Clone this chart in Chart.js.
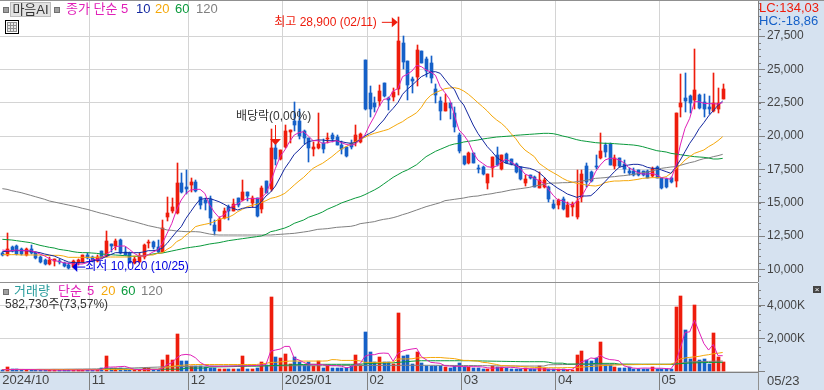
<!DOCTYPE html>
<html lang="ko">
<head>
<meta charset="UTF-8">
<title>마음AI</title>
<script src="https://cdn.jsdelivr.net/npm/chart.js"></script>
<style>
    html, body { margin: 0; padding: 0; }
    body { width: 824px; height: 390px; background: #d6e2f0; position: relative; overflow: hidden;
           font: 12px 'Liberation Sans', 'Noto Sans CJK KR', sans-serif; color: #333; }
    canvas { position: absolute; left: 0; }
    #priceChart { top: 0; }
    #volumeChart { top: 282px; }
    .t { position: absolute; white-space: pre; line-height: 14px; }
    .sq { position: absolute; width: 4px; height: 4px; background: #a0a0a0; border: 1px solid #707070; }
    .line { position: absolute; background: #909090; }
</style>
</head>
<body>
<canvas id="priceChart" width="824" height="282"></canvas>
<canvas id="volumeChart" width="824" height="108"></canvas>

<div class="line" style="left:0;top:0;width:824px;height:1px"></div>
<div class="line" style="left:0;top:282px;width:758px;height:1px"></div>
<div class="line" style="left:758px;top:372px;width:1px;height:18px"></div>

<div class="sq" style="left:3px;top:7px"></div>
<div class="t" style="left:10px;top:2px;width:39px;height:13px;line-height:13px;text-align:center;background:#e2e2e2;border:1px solid #bdbdbd;font-size:13px">마음AI</div>
<div class="sq" style="left:54px;top:7px"></div>
<div class="t" style="left:66px;top:2px;color:#e020b8;font-size:13px">종가 단순</div>
<div class="t" style="left:121px;top:2px;color:#e020b8;font-size:13px">5</div>
<div class="t" style="left:136px;top:2px;color:#1428a0;font-size:13px">10</div>
<div class="t" style="left:155px;top:2px;color:#f5a80a;font-size:13px">20</div>
<div class="t" style="left:175px;top:2px;color:#0a9a3c;font-size:13px">60</div>
<div class="t" style="left:196px;top:2px;color:#808080;font-size:13px">120</div>
<div style="position:absolute;left:5px;top:20px;width:12px;height:12px;border:1px solid #000;padding:0;background:#fff">
    <div style="margin:1px;width:10px;height:10px;background:repeating-linear-gradient(90deg,#909090 0 1px,transparent 1px 3px),repeating-linear-gradient(0deg,#909090 0 1px,#e8e8e8 1px 3px)"></div>
</div>
<div class="t" style="left:759px;top:1px;color:#ee1c0c;font-size:13px">LC:134,03</div>
<div class="t" style="left:759px;top:14px;color:#1560c8;font-size:13px">HC:-18,86</div>

<div class="sq" style="left:3px;top:289px"></div>
<div class="t" style="left:14px;top:284px;color:#2a9d9d;font-size:13px">거래량</div>
<div class="t" style="left:58px;top:284px;color:#e020b8;font-size:13px">단순</div>
<div class="t" style="left:87px;top:284px;color:#e020b8;font-size:13px">5</div>
<div class="t" style="left:101px;top:284px;color:#f5a80a;font-size:13px">20</div>
<div class="t" style="left:121px;top:284px;color:#0a9a3c;font-size:13px">60</div>
<div class="t" style="left:141px;top:284px;color:#808080;font-size:13px">120</div>
<div class="t" style="left:5px;top:297px;font-size:12px">582,730주(73,57%)</div>
<div style="position:absolute;left:813px;top:286px;width:8px;height:7px;background:#444;color:#fff;font-size:8px;line-height:7px;text-align:center">×</div>
<div class="t" style="left:767px;top:374px;font-size:13px;color:#444">05/23</div>

<script>
// trading days, then empty slots on the right of the last candle
const categories = [
    '10/04','10/07','10/08','10/10','10/11','10/14','10/15','10/16','10/17','10/18',
    '10/21','10/22','10/23','10/24','10/25','10/28','10/29','10/30','10/31','11/01',
    '11/04','11/05','11/06','11/07','11/08','11/11','11/12','11/13','11/14','11/15',
    '11/18','11/19','11/20','11/21','11/22','11/25','11/26','11/27','11/28','11/29',
    '12/02','12/03','12/04','12/05','12/06','12/09','12/10','12/11','12/12','12/13',
    '12/16','12/17','12/18','12/19','12/20','12/23','12/24','12/26','12/27','12/30',
    '01/02','01/03','01/06','01/07','01/08','01/09','01/10','01/13','01/14','01/15',
    '01/16','01/17','01/20','01/21','01/22','01/23','01/24','01/31','02/03','02/04',
    '02/05','02/06','02/07','02/10','02/11','02/12','02/13','02/14','02/17','02/18',
    '02/19','02/20','02/21','02/24','02/25','02/26','02/27','02/28','03/04','03/05',
    '03/06','03/07','03/10','03/11','03/12','03/13','03/14','03/17','03/18','03/19',
    '03/20','03/21','03/24','03/25','03/26','03/27','03/28','03/31','04/01','04/02',
    '04/03','04/04','04/07','04/08','04/09','04/10','04/11','04/14','04/15','04/16',
    '04/17','04/18','04/21','04/22','04/23','04/24','04/25','04/28','04/29','04/30',
    '05/02','05/07','05/08','05/09','05/12','05/13','05/14','05/15','05/16','05/19',
    '05/20','05/21','05/22','05/23','','','','','','',''
];
const monthStarts = [0, 19, 40, 60, 78, 98, 118, 140];
const monthLabels = ['2024/10', '11', '12', '2025/01', '02', '03', '04', '05'];
const priceTicks = [10000, 12500, 15000, 17500, 20000, 22500, 25000, 27500];
const volumeTicks = [0, 2000, 4000];

const opens = [
    11250,11050,11700,11750,11550,11100,11500,11275,10950,10700,
    10400,10650,10650,10500,10325,10150,10450,10550,11050,10950,
    10650,11400,11000,11900,11750,12200,11325,11200,10450,10575,
    10900,11950,12075,11650,11325,13900,14400,14200,16500,16200,
    16350,16575,15400,15200,15250,13300,12900,13850,14700,14400,
    15350,15200,15800,14950,15350,14550,16600,16000,19075,18300,
    19150,20325,21100,21150,20400,19850,19000,19075,19450,19750,
    20075,19950,19300,19150,19450,19550,19550,25700,23250,22500,
    22600,24000,22850,22900,23500,26950,25600,24250,24400,26400,
    25800,25500,23550,22600,21875,22500,21700,20050,18500,17950,
    18750,17625,17650,16500,17600,18575,17550,18650,18300,17900,
    17700,16450,17050,16950,16125,16150,16150,14875,14825,15275,
    13950,14700,13900,15400,17750,17325,17750,18325,19325,19425,
    17750,18350,17900,17375,17375,17425,17350,17350,16975,17650,
    16850,16750,16825,16650,22175,22825,23000,22700,23050,22550,
    22175,21875,22050,22800
];
const closes = [
    11050,11500,11400,11150,11150,11500,11200,10825,10550,10400,
    10700,10750,10550,10250,10100,10650,10700,11050,10850,10600,
    10950,10850,12125,11750,12125,11250,11100,10500,10750,11025,
    11825,12075,11650,11325,13075,14200,14650,16450,15800,16050,
    16550,15850,14800,15000,13850,12900,13800,14375,14375,14900,
    14800,15825,15500,15325,14000,16100,15750,19075,18250,18950,
    20375,20450,20850,20000,19850,19100,19150,19400,19050,19850,
    19800,19350,19050,18500,19200,20100,20150,22025,22050,22200,
    23400,23000,22700,23325,27100,25550,23800,24100,26425,25500,
    24850,24350,23050,21900,22500,22100,20700,18900,17900,18750,
    18000,17575,17150,17150,18400,17800,18575,18000,17900,17300,
    16750,16800,16850,16200,16700,16700,15250,14600,15200,14550,
    14825,14875,15100,17150,16575,16650,17650,18875,18825,17850,
    18350,17750,17500,17200,17075,17075,17075,16875,17500,16875,
    16100,16150,16550,21725,22500,22625,22450,23450,22125,22050,
    22000,22450,22500,23500
];
const highs = [
    11325,12700,11750,11800,11600,11575,11850,11325,11000,10775,
    10900,10750,10800,10550,10450,10700,10750,11100,11200,11000,
    11050,11400,12850,11900,12300,12300,11700,11300,10900,11200,
    11900,12200,12150,12200,13700,15400,15325,17950,17200,17450,
    16850,16700,15450,15375,15500,13700,13900,14575,14800,15300,
    15350,16700,15800,15500,15350,16250,16600,20500,19700,18950,
    20825,20450,22575,22025,20450,19850,19575,21725,19750,20250,
    20250,20050,19650,19200,19700,20850,20250,25700,23750,22950,
    23800,24000,22900,23625,28900,27500,25650,24450,26850,26400,
    25950,26000,23900,22900,23125,22500,22200,20200,18500,18800,
    18750,17850,17750,17150,18450,19200,18575,18750,18300,17950,
    17700,17100,17100,17000,17325,16825,16250,15200,15300,15400,
    15050,15050,17450,17450,17950,17375,18575,20200,19450,19450,
    18550,18350,18200,17575,17575,17475,17400,17450,17650,17750,
    16875,16875,16950,21725,24625,24750,23075,26550,23125,23125,
    22975,24700,23575,23875
];
const lows = [
    11000,11000,11300,11100,11100,11000,11150,10775,10450,10350,
    10350,10250,10400,10150,10020,10100,10350,10500,10750,10550,
    10550,10800,10950,11300,11450,11150,11050,10450,10400,10525,
    10800,11600,11550,11250,11300,13650,14250,14150,15750,15650,
    15825,15800,14500,14450,13350,12550,12850,13800,13700,14350,
    14700,15150,15100,14650,13900,14250,15700,15900,17825,18200,
    19075,19500,20400,19750,19400,18050,18500,19000,18750,19450,
    19575,19300,18650,18450,19050,19250,19450,21950,21450,21800,
    22250,22900,21950,22625,23100,25000,22700,23200,23750,25450,
    24400,24000,22450,21200,21875,21300,20325,18750,17800,17900,
    17950,17250,17050,16050,16900,17750,17450,17950,17800,17250,
    16700,16250,16750,16150,16100,16100,15050,14550,14500,14450,
    13900,14000,13800,15075,16200,16575,17550,18275,18400,17850,
    17550,17700,17200,17050,17000,17000,17000,16825,16900,16825,
    16000,16100,16450,16150,21425,21800,21750,22000,22050,21450,
    21625,21800,21700,22750
];
const ma5 = [
    11450,11400,11400,11450,11400,11400,11400,11300,11150,11000,
    10800,10650,10600,10500,10450,10400,10400,10400,10500,10700,
    10750,10800,11100,11350,11700,11750,11750,11500,11200,11000,
    11000,11100,11300,11450,11950,12700,13450,14450,15200,15700,
    15950,16000,16000,15700,14850,14300,13900,14050,14450,14800,
    14900,15150,15300,15300,15300,15350,15700,16550,17575,18450,
    18950,19575,20075,20250,20325,20000,19650,19650,19450,19500,
    19575,19650,19500,19375,19300,19400,19750,20075,20825,21450,
    22200,22750,22800,23375,23550,24450,24625,24875,25300,25200,
    24950,24800,24550,23700,23250,22750,21575,20450,20075,19575,
    18750,18200,17950,17700,17650,17750,18075,18250,18075,17825,
    17575,17150,17000,16825,16650,16450,16000,15550,15200,15150,
    14950,14825,15075,15450,16075,16575,17325,17825,18200,18325,
    18325,18200,18000,17650,17450,17250,17150,17150,17200,17075,
    16875,16825,16750,17700,19325,20575,21325,22575,22575,22450,
    22425,22425,22400,22500
];
const ma10 = [
    11325,11350,11375,11400,11400,11400,11350,11300,11250,11150,
    11075,11000,10850,10700,10550,10500,10500,10500,10550,10600,
    10700,10800,10950,11100,11250,11250,11250,11250,11250,11250,
    11300,11400,11400,11450,11600,11950,12400,12825,13200,13825,
    14325,14825,15250,15300,15325,15200,15075,14900,14700,14575,
    14450,14575,14625,14650,14650,15075,15500,15800,16250,16900,
    17575,18075,18625,18950,19325,19575,19650,19700,19700,19650,
    19650,19650,19575,19500,19450,19500,19750,20000,20200,20400,
    20825,21200,21700,22075,22500,23125,23500,23800,24125,24450,
    24625,24800,24825,24700,24250,23800,23500,22750,22325,21575,
    20825,20200,19700,19200,18825,18400,18150,17950,17875,17800,
    17700,17625,17575,17450,17250,16950,16575,16325,16075,15875,
    15650,15525,15400,15500,15500,15525,15825,16200,16575,16950,
    17325,17650,17750,17825,17875,17875,17800,17650,17575,17575,
    17450,17325,17200,17650,18200,18825,19450,19950,20550,21000,
    21500,21900,22300,22625
];
const ma20 = [
    11100,11100,11100,11100,11075,11075,11075,11075,11075,11050,
    11050,11050,11050,11000,10900,10900,10900,10900,10900,10900,
    10900,10925,10925,10925,10925,10925,10925,10925,11000,11000,
    11000,11075,11075,11200,11250,11500,11700,12075,12250,12575,
    12825,13200,13300,13375,13450,13575,13750,13825,13900,14075,
    14325,14500,14700,14800,14875,15000,15150,15325,15400,15525,
    15700,16000,16325,16625,16900,17250,17575,17775,17950,18200,
    18450,18750,19025,19200,19400,19575,19750,19900,20075,20200,
    20300,20400,20500,20700,20900,21075,21325,21525,21750,22150,
    22700,23050,23250,23400,23550,23600,23625,23550,23375,23125,
    22825,22500,22200,21875,21500,21200,20950,20625,20200,19825,
    19325,18950,18700,18450,17950,17700,17450,17250,17050,16825,
    16650,16550,16450,16400,16325,16275,16250,16325,16500,16575,
    16625,16625,16650,16650,16700,16750,16825,16850,16875,16875,
    16875,16950,17200,17500,17825,18200,18450,18700,18825,18950,
    19200,19400,19650,19950
];
const ma60 = [
    12250,12225,12200,12150,12100,12050,12000,11900,11800,11725,
    11650,11600,11500,11450,11400,11325,11275,11250,11250,11225,
    11200,11150,11125,11100,11075,11050,11025,11000,10975,10975,
    11025,11075,11150,11200,11225,11300,11375,11450,11525,11600,
    11650,11700,11750,11825,11900,11950,12000,12075,12150,12200,
    12250,12300,12350,12400,12450,12500,12625,12825,12900,13000,
    13100,13250,13450,13575,13700,13900,14025,14150,14300,14500,
    14650,14800,14975,15100,15225,15350,15450,15600,15775,15950,
    16150,16400,16650,16900,17100,17300,17450,17650,17850,18150,
    18450,18650,18850,19000,19150,19300,19400,19450,19550,19600,
    19650,19700,19775,19825,19875,19925,19950,19975,20000,20050,
    20075,20100,20125,20150,20175,20200,20200,20175,20100,20000,
    19925,19825,19725,19650,19600,19550,19500,19475,19450,19450,
    19425,19400,19375,19350,19325,19275,19200,19100,19000,18900,
    18850,18800,18700,18650,18600,18550,18500,18450,18425,18400,
    18350,18275,18275,18325
];
const ma120 = [
    16050,16000,15900,15825,15750,15650,15550,15450,15350,15250,
    15125,15050,14975,14900,14825,14750,14675,14575,14500,14400,
    14300,14200,14125,14025,13925,13850,13750,13650,13575,13475,
    13375,13275,13200,13125,13050,12950,12925,12875,12850,12825,
    12825,12825,12800,12725,12650,12600,12575,12575,12575,12575,
    12575,12575,12575,12575,12575,12575,12575,12575,12600,12625,
    12650,12675,12700,12750,12800,12850,12925,13000,13025,13050,
    13100,13150,13175,13200,13225,13300,13425,13475,13525,13575,
    13675,13750,13800,13875,13975,14100,14200,14325,14450,14575,
    14700,14800,14900,15000,15150,15200,15250,15300,15350,15425,
    15475,15500,15575,15625,15675,15750,15800,15875,15950,16000,
    16050,16100,16150,16250,16300,16375,16450,16475,16475,16500,
    16500,16525,16575,16625,16675,16750,16825,16850,16875,16925,
    16950,17000,17025,17075,17125,17175,17250,17300,17375,17475,
    17575,17625,17675,17700,17800,17900,18000,18075,18200,18300,
    18350,18450,18525,18625
];

// volume in thousands of shares
const volumes = [
    80,245,100,100,80,80,80,60,60,60,
    50,50,40,60,60,60,60,60,60,50,
    60,200,920,160,160,200,120,80,80,80,
    160,160,80,80,670,980,670,2260,610,610,
    285,305,305,265,200,160,100,100,120,100,
    120,920,100,100,200,530,370,4530,860,775,
    1040,410,860,530,370,530,285,610,200,370,
    200,200,200,200,285,980,370,2390,1160,530,
    860,530,530,430,3550,920,980,430,1140,490,
    325,325,325,325,245,200,285,490,245,245,
    185,200,120,120,305,225,225,200,100,120,
    120,180,120,120,305,160,120,120,120,120,
    80,80,980,1220,670,610,775,1775,370,370,
    245,185,185,245,145,145,145,145,245,145,
    145,145,145,3900,4590,2500,735,4040,670,735,
    430,2325,860,583
];
const volMa5 = [
    80,80,90,100,100,90,90,80,70,65,
    60,55,50,50,50,55,60,60,60,60,
    60,85,240,240,250,270,285,200,100,90,
    100,100,100,100,160,400,500,800,980,1020,
    980,815,530,370,300,290,285,285,290,300,
    310,320,325,325,345,365,400,1220,1285,1346,
    1510,1510,775,675,530,410,410,400,390,350,
    325,325,300,200,240,400,450,900,1000,1000,
    1080,1100,1080,600,1080,1225,1300,1350,1390,880,
    700,530,500,470,325,300,290,285,270,265,
    265,265,250,200,170,190,210,230,225,210,
    170,150,140,130,130,120,110,100,90,90,
    90,100,300,570,640,800,760,960,790,700,
    680,620,320,240,180,160,180,180,170,170,
    170,150,130,530,1390,2370,2400,3120,2400,1690,
    1285,1630,940,940
];
const volMa20 = [
    90,90,90,90,90,90,90,90,90,90,
    90,90,90,90,90,90,90,90,90,90,
    90,90,90,90,90,90,90,90,90,90,
    90,100,100,100,200,240,280,320,350,370,
    390,400,400,400,400,400,400,400,400,400,
    400,400,400,400,400,440,470,530,530,560,
    580,610,610,610,610,610,610,610,610,620,
    700,690,650,650,650,650,620,530,530,530,
    530,530,530,550,735,740,740,750,800,815,
    815,830,830,830,800,780,760,700,650,650,
    620,610,530,510,450,400,330,325,310,300,
    280,260,240,220,210,200,200,200,200,200,
    210,210,225,240,260,280,300,325,340,350,
    365,370,380,385,390,395,400,405,405,405,
    405,405,410,530,735,800,835,870,900,960,
    1000,1060,1090,1140
];
const volMa60 = [
    90,90,90,90,90,90,90,90,90,90,
    90,90,90,90,90,90,90,90,90,90,
    90,110,110,110,110,110,110,110,110,110,
    110,110,110,110,110,110,110,110,110,180,
    180,180,180,180,245,250,255,260,265,270,
    280,290,295,300,300,310,320,325,340,350,
    360,370,380,390,400,405,410,410,410,410,
    410,410,410,410,410,410,420,440,460,470,
    480,490,495,500,530,550,570,600,620,630,
    630,630,630,630,630,630,630,630,630,630,
    630,620,615,610,605,600,595,590,585,580,
    575,570,570,570,570,570,540,480,480,480,
    430,430,430,430,430,430,470,470,470,470,
    470,420,420,420,415,415,410,410,410,410,
    410,410,410,430,450,470,490,500,510,515,
    520,525,530,530
];
const volMa120 = [
    90,90,95,95,95,100,100,100,105,105,
    105,110,110,110,115,115,120,120,125,125,
    130,135,140,145,150,160,170,180,190,200,
    210,220,230,240,250,260,265,270,275,280,
    285,290,295,300,300,305,305,310,310,310,
    315,315,315,320,320,320,320,320,320,320,
    320,320,325,325,325,325,325,325,325,330,
    330,330,330,335,335,335,335,340,340,340,
    340,345,345,345,345,350,350,350,350,350,
    350,350,350,345,345,340,340,340,335,335,
    335,330,330,325,320,320,315,315,310,310,
    305,305,305,305,305,305,380,385,390,395,
    400,405,410,410,410,410,410,410,410,410,
    410,410,410,410,410,410,410,410,410,410,
    410,410,410,430,470,520,560,570,580,585,
    590,595,605,610
];

const upColor = '#ee1c0c';
const downColor = '#1560c8';
const gridColor = '#d4d4d4';
const axisColor = '#808080';
const fontFamily = "'Liberation Sans', 'Noto Sans CJK KR', sans-serif";

const candleColors = closes.map((c, i) => c >= opens[i] ? upColor : downColor);

function lineSet(label, data, color) {
    return { type: 'line', label, data, borderColor: color, borderWidth: 1, pointRadius: 0, tension: 0, order: 1 };
}

function monthGrid(c) {
    return monthStarts.includes(c.index) ? gridColor : 'transparent';
}

// the panes have a fixed size, so no room is kept for half a tick label
function fixSize(s, width, height) {
    if (width !== null) s.width = width;
    if (height !== null) s.height = height;
    s.paddingTop = s.paddingBottom = s.paddingLeft = s.paddingRight = 0;
}

// bars are 1 and 3 px wide, keep them on whole pixels so they stay sharp
const snapBars = {
    id: 'snapBars',
    afterDatasetsUpdate(chart) {
        chart.data.datasets.forEach((ds, n) => {
            if (ds.type !== 'bar') return;
            chart.getDatasetMeta(n).data.forEach(el => {
                el.x = Math.round(el.x) + 0.5;
                el.y = Math.round(el.y);
                el.base = Math.round(el.base);
                if (el.y === el.base) el.base = el.y + 1;
            });
        });
    }
};

const whitePlot = {
    id: 'whitePlot',
    beforeDraw(chart) {
        const a = chart.chartArea;
        chart.ctx.fillStyle = '#fff';
        chart.ctx.fillRect(a.left, a.top, a.right - a.left, a.bottom - a.top);
    }
};

function minorTicks(step) {
    return {
        id: 'minorTicks',
        afterDraw(chart) {
            const y = chart.scales.y, ctx = chart.ctx;
            ctx.fillStyle = axisColor;
            for (let v = Math.ceil(y.min / step) * step; v <= y.max; v += step) {
                ctx.fillRect(y.left + 1, Math.round(y.getPixelForValue(v)), 2, 1);
            }
        }
    };
}

// high / low / dividend marks on the price pane
const priceMarks = {
    id: 'priceMarks',
    afterDatasetsDraw(chart) {
        const ctx = chart.ctx, x = chart.scales.x, y = chart.scales.y;
        ctx.save();
        ctx.font = '12px ' + fontFamily;
        ctx.textBaseline = 'middle';

        const hx = x.getPixelForValue(84), hy = y.getPixelForValue(28900) + 5;
        ctx.fillStyle = '#ee1c0c';
        ctx.textAlign = 'right';
        ctx.fillText('최고 28,900 (02/11)', hx - 21, hy);
        ctx.fillRect(hx - 16, hy - 0.5, 11, 1);
        ctx.beginPath(); ctx.moveTo(hx, hy); ctx.lineTo(hx - 6, hy - 5); ctx.lineTo(hx - 6, hy + 5); ctx.fill();

        const lx = x.getPixelForValue(14), ly = y.getPixelForValue(10020) - 2;
        ctx.fillStyle = '#0000e0';
        ctx.textAlign = 'left';
        ctx.fillText('최저 10,020 (10/25)', lx + 17, ly);
        ctx.fillRect(lx + 9, ly - 0.5, 8, 1);
        ctx.beginPath(); ctx.moveTo(lx + 4, ly); ctx.lineTo(lx + 9, ly - 5); ctx.lineTo(lx + 9, ly + 5); ctx.fill();

        const dx = x.getPixelForValue(58);
        ctx.fillStyle = '#ee1c0c';
        ctx.fillRect(Math.round(dx), 125, 1, 15);
        ctx.beginPath(); ctx.moveTo(dx - 5.5, 139); ctx.lineTo(dx + 5.5, 139); ctx.lineTo(dx, 145); ctx.fill();
        ctx.fillStyle = '#333';
        ctx.textAlign = 'left';
        ctx.fillText('배당락(0,00%)', 236, 117);
        ctx.restore();
    }
};

new Chart(document.getElementById('priceChart'), {
    type: 'bar',
    data: {
        labels: categories,
        datasets: [
            lineSet('5', ma5, '#e020b8'),
            lineSet('10', ma10, '#1428a0'),
            lineSet('20', ma20, '#f5a80a'),
            lineSet('60', ma60, '#0a9a3c'),
            lineSet('120', ma120, '#808080'),
            { type: 'bar', label: 'body', data: opens.map((o, i) => [o, closes[i]]), backgroundColor: candleColors,
              barThickness: 3, grouped: false, order: 2 },
            { type: 'bar', label: 'wick', data: lows.map((l, i) => [l, highs[i]]), backgroundColor: candleColors,
              barThickness: 1, grouped: false, order: 3 }
        ]
    },
    options: {
        responsive: false,
        animation: false,
        layout: { padding: { top: 1 } },
        plugins: { legend: { display: false }, tooltip: { enabled: false } },
        scales: {
            x: {
                offset: true,
                grid: { offset: true, color: monthGrid, drawTicks: false },
                border: { display: false },
                ticks: { display: false, autoSkip: false },
                afterFit: s => fixSize(s, null, 0)
            },
            y: {
                position: 'right',
                min: 9050,
                max: 30125,
                grid: { color: gridColor, tickColor: axisColor, tickLength: 7 },
                border: { color: axisColor },
                ticks: {
                    padding: 2, color: '#444',
                    font: { family: fontFamily, size: 12 },
                    callback: v => v.toLocaleString('en-US')
                },
                afterBuildTicks: s => { s.ticks = priceTicks.map(value => ({ value })); },
                afterFit: s => fixSize(s, 66, null)
            }
        }
    },
    plugins: [snapBars, whitePlot, minorTicks(500), priceMarks]
});

new Chart(document.getElementById('volumeChart'), {
    type: 'bar',
    data: {
        labels: categories,
        datasets: [
            lineSet('5', volMa5, '#e020b8'),
            lineSet('20', volMa20, '#f5a80a'),
            lineSet('60', volMa60, '#0a9a3c'),
            lineSet('120', volMa120, '#808080'),
            { type: 'bar', label: '거래량', data: volumes, backgroundColor: candleColors,
              barThickness: 3, grouped: false, order: 2 }
        ]
    },
    options: {
        responsive: false,
        animation: false,
        layout: { padding: { top: 1 } },
        plugins: { legend: { display: false }, tooltip: { enabled: false } },
        scales: {
            x: {
                offset: true,
                grid: { offset: true, color: monthGrid, tickColor: c => monthStarts.includes(c.index) ? axisColor : 'transparent', tickLength: 18 },
                border: { color: axisColor },
                ticks: {
                    autoSkip: false, maxRotation: 0, align: 'start', padding: -17, color: '#444',
                    font: { family: fontFamily, size: 13 },
                    callback: (v, i) => { const m = monthStarts.indexOf(i); return m < 0 ? '' : monthLabels[m]; }
                },
                afterFit: s => fixSize(s, null, 18)
            },
            y: {
                position: 'right',
                min: -61,
                max: 5399,
                grid: { color: gridColor, tickColor: axisColor, tickLength: 7 },
                border: { color: axisColor },
                ticks: {
                    padding: 2, color: '#444',
                    font: { family: fontFamily, size: 12 },
                    callback: v => v === 0 ? '' : v.toLocaleString('en-US') + 'K'
                },
                afterBuildTicks: s => { s.ticks = volumeTicks.map(value => ({ value })); },
                afterFit: s => fixSize(s, 66, null)
            }
        }
    },
    plugins: [snapBars, whitePlot, minorTicks(500)]
});
</script>
</body>
</html>
